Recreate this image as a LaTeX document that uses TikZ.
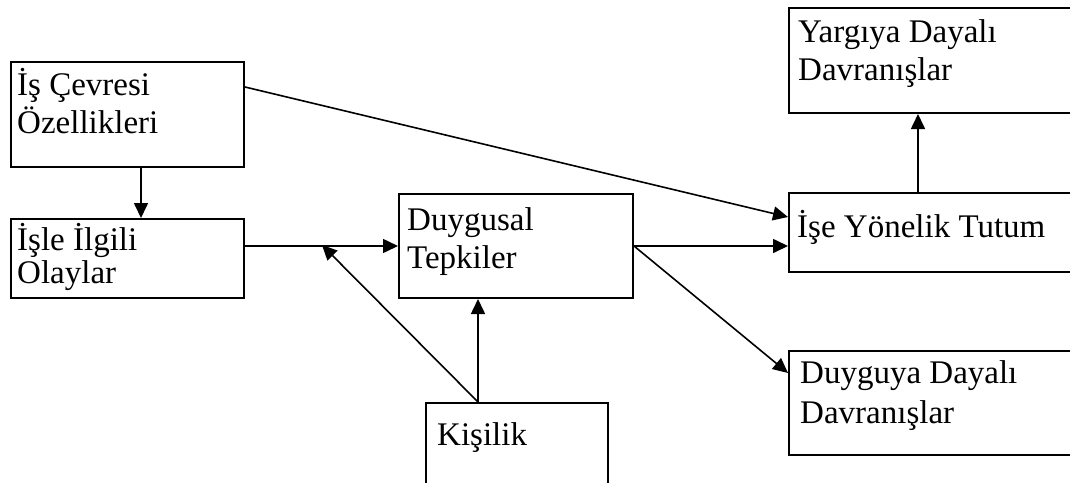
\documentclass[tikz,border=0pt]{standalone}
\usepackage{fontspec}
\setmainfont{Liberation Serif}
\usetikzlibrary{arrows.meta}
\tikzstyle{box} = [draw, line width=2pt, rectangle, anchor=north west, inner sep=0pt]
\tikzstyle{caption} = [anchor=base west, align=left, inner sep=0pt, font=\fontsize{33}{38}\selectfont]
\tikzstyle{path} = [-{Triangle[length=15pt, width=14pt]}, line width=1.6pt]

\begin{document}
\begin{tikzpicture}[x=1pt, y=-1pt]
    \useasboundingbox (0, 0) rectangle (1070, 482);

    \node (env) [box, minimum width=233, minimum height=105] at (10, 61) {};
    \node (events) [box, minimum width=233, minimum height=79] at (10, 218) {};
    \node (affect) [box, minimum width=234, minimum height=104] at (398, 193) {};
    \node (pers) [box, minimum width=182, minimum height=90] at (425, 402) {};
    \node (judge) [box, minimum width=290, minimum height=105] at (788, 7) {};
    \node (attitude) [box, minimum width=290, minimum height=79] at (788, 192) {};
    \node (emotion) [box, minimum width=290, minimum height=104] at (788, 350) {};

    % base anchor sits on the last line
    \node (env text) [caption] at (17, 133) {İş Çevresi\\Özellikleri};
    \node (events text) [caption] at (17, 283) {İşle İlgili\\[-5pt]Olaylar};
    \node (affect text) [caption] at (407, 268) {Duygusal\\Tepkiler};
    \node (pers text) [caption] at (437, 445) {Kişilik};
    \node (judge text) [caption] at (798, 80) {Yargıya Dayalı\\Davranışlar};
    \node (attitude text) [caption] at (797, 237) {İşe Yönelik Tutum};
    \node (emotion text) [caption] at (800, 423) {Duyguya Dayalı\\[2pt]Davranışlar};

    \coordinate (meet) at (322, 245);

    \draw [path] ([yshift=-26]env.north east) -- ([yshift=-25]attitude.north west);
    \draw [path] ([xshift=13.5]env.south) -- ([xshift=13.5]events.north);
    \draw [path] (events.east |- affect.west) -- (affect.west);
    \draw [path] ([xshift=-39]pers.north) -- (meet);
    \draw [path] ([xshift=-39]pers.north) -- ([xshift=-38]affect.south);
    \draw [path] (affect.east) -- (affect.east -| attitude.west);
    \draw [path] (affect.east) -- ([yshift=-23]emotion.north west);
    \draw [path] ([xshift=130]attitude.north west) -- ([xshift=130]judge.south west);
\end{tikzpicture}
\end{document}
